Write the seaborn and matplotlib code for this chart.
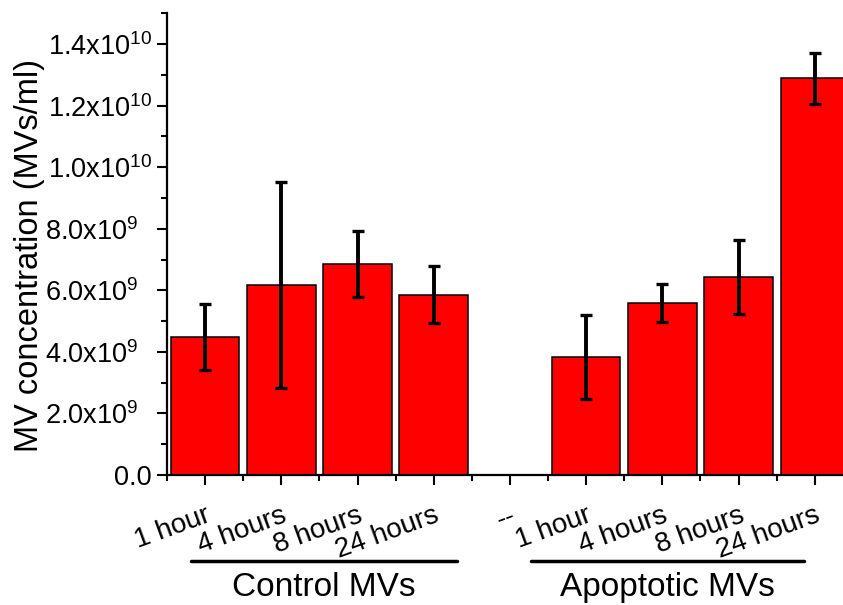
import numpy as np
import pandas as pd
import matplotlib
matplotlib.use('Agg')
import matplotlib.pyplot as plt
import matplotlib.transforms as mtransforms
from matplotlib.ticker import FixedLocator, MultipleLocator
import seaborn as sns

# ---------------- data ----------------
categories = ['Control 1 hour', 'Control 4 hours', 'Control 8 hours', 'Control 24 hours', 'gap',
              'Apoptotic 1 hour', 'Apoptotic 4 hours', 'Apoptotic 8 hours', 'Apoptotic 24 hours']
tick_labels = ['1 hour', '4 hours', '8 hours', '24 hours', '--',
               '1 hour', '4 hours', '8 hours', '24 hours']
bar_categories = ['Control 1 hour', 'Control 4 hours', 'Control 8 hours', 'Control 24 hours',
                  'Apoptotic 1 hour', 'Apoptotic 4 hours', 'Apoptotic 8 hours', 'Apoptotic 24 hours']
values = [4.48e9, 6.17e9, 6.86e9, 5.86e9, 3.84e9, 5.58e9, 6.43e9, 12.89e9]
errors = [1.06e9, 3.34e9, 1.08e9, 0.93e9, 1.37e9, 0.62e9, 1.20e9, 0.83e9]
group_names = ['Control MVs', 'Apoptotic MVs']
ytick_values = [0.0, 2.0e9, 4.0e9, 6.0e9, 8.0e9, 1.0e10, 1.2e10, 1.4e10]
ytick_labels = ['0.0',
                r'2.0x10$^{\mathregular{9}}$', r'4.0x10$^{\mathregular{9}}$',
                r'6.0x10$^{\mathregular{9}}$', r'8.0x10$^{\mathregular{9}}$',
                r'1.0x10$^{\mathregular{10}}$', r'1.2x10$^{\mathregular{10}}$',
                r'1.4x10$^{\mathregular{10}}$']
ylabel = 'MV concentration (MVs/ml)'

df = pd.DataFrame({'category': bar_categories, 'value': values, 'err': errors})

# ---------------- style ----------------
sns.set_style('ticks')
plt.rcParams['font.family'] = ['Liberation Sans', 'DejaVu Sans']
plt.rcParams['mathtext.fontset'] = 'custom'
plt.rcParams['mathtext.rm'] = 'Liberation Sans'
plt.rcParams['mathtext.it'] = 'Liberation Sans:italic'
plt.rcParams['mathtext.bf'] = 'Liberation Sans:bold'
for k in ['text.color', 'axes.labelcolor', 'xtick.color', 'ytick.color', 'axes.edgecolor']:
    plt.rcParams[k] = 'black'

fig = plt.figure(figsize=(8.43, 6.05), dpi=100)
ax = fig.add_axes([167 / 843, (605 - 475) / 605, 1 - 167 / 843, (475 - 13.3) / 605])

sns.barplot(data=df, x='category', y='value', order=categories, color='#FF0000',
            width=0.9, edgecolor='black', linewidth=1.1, saturation=1, errorbar=None, ax=ax)
for p in ax.patches:
    p.set_facecolor('#FF0000')

xpos = [categories.index(c) for c in bar_categories]
ax.errorbar(xpos, values, yerr=errors, fmt='none', ecolor='black', elinewidth=2.8,
            capsize=4.4, capthick=2.4, zorder=5)

ax.set_xlim(-0.5, 8.37)
ax.set_ylim(0, 1.5e10)

# ticks
ax.yaxis.set_major_locator(FixedLocator(ytick_values))
ax.set_yticklabels(ytick_labels, fontsize=19.5)
ax.yaxis.set_minor_locator(MultipleLocator(1e9))
ax.set_xticks(range(len(categories)))
ax.set_xticklabels(tick_labels, fontsize=20, rotation=20, ha='right', va='top',
                   rotation_mode='anchor')
ax.xaxis.set_minor_locator(FixedLocator(np.arange(-0.5, len(categories), 1.0)))

ax.tick_params(axis='both', which='major', direction='out', length=7, width=1.5,
               color='black', labelcolor='black')
ax.tick_params(axis='both', which='minor', direction='out', length=4, width=1.5, color='black')
ax.tick_params(axis='y', which='major', pad=4)
ax.tick_params(axis='x', which='major', pad=13)

for s in ['top', 'right']:
    ax.spines[s].set_visible(False)
for s in ['left', 'bottom']:
    ax.spines[s].set_linewidth(1.6)
    ax.spines[s].set_color('black')

ax.set_xlabel('')
ax.set_ylabel(ylabel, fontsize=23.5)
ax.yaxis.set_label_coords(-0.180, 0.476)

# group lines and labels
trans = mtransforms.blended_transform_factory(ax.transData, ax.transAxes)
group_spans = [(-0.185, 3.31), (4.28, 7.86)]
for (x0, x1), name in zip(group_spans, group_names):
    ax.plot([x0, x1], [-0.186, -0.186], color='black', lw=2.5, transform=trans,
            clip_on=False, solid_capstyle='round')
    ax.text((x0 + x1) / 2, -0.243, name, transform=trans, ha='center', va='center',
            fontsize=24, clip_on=False)

# single-digit exponent labels sit further from the axis in the original
shift = mtransforms.ScaledTranslation(-13 / 100, 0, fig.dpi_scale_trans)
for lab in ax.get_yticklabels():
    if '{9}' in lab.get_text():
        lab.set_transform(lab.get_transform() + shift)

fig.savefig('out.png', dpi=100)
